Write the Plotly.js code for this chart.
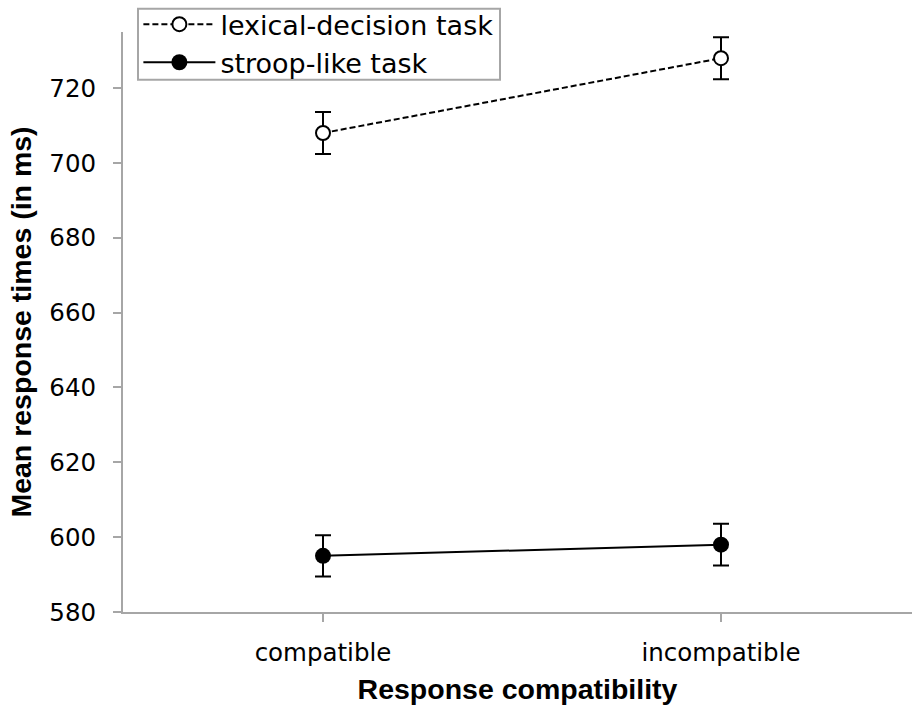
<!DOCTYPE html>
<html>
<head>
<meta charset="utf-8">
<script src="https://cdn.plot.ly/plotly-3.0.1.min.js"></script>
<style>html,body{margin:0;padding:0;background:#fff;}#chart{width:912px;height:710px;}</style>
</head>
<body>
<div id="chart"></div>
<script>
var categories = ["compatible", "incompatible"];
var lexicalMeans = [708, 728];
var lexicalErrors = [5.6, 5.6];
var stroopMeans = [595, 598];
var stroopErrors = [5.5, 5.6];
var yTicks = [580, 600, 620, 640, 660, 680, 700, 720];

var font = "DejaVu Sans, Arial, sans-serif";
var boldFont = "Liberation Sans, Arial, sans-serif";

var traces = [
  {
    x: categories, y: lexicalMeans, type: "scatter", mode: "lines+markers",
    name: "lexical-decision task",
    line: {color: "#000", width: 2, dash: "6px,3px"},
    marker: {symbol: "circle", size: 14, color: "#fff", line: {color: "#000", width: 2}},
    error_y: {type: "data", array: lexicalErrors, visible: true, color: "#000", thickness: 2, width: 8}
  },
  {
    x: categories, y: stroopMeans, type: "scatter", mode: "lines+markers",
    name: "stroop-like task",
    line: {color: "#000", width: 2},
    marker: {symbol: "circle", size: 16, color: "#000", line: {color: "#000", width: 0}},
    error_y: {type: "data", array: stroopErrors, visible: true, color: "#000", thickness: 2, width: 8}
  }
];

var layout = {
  width: 912, height: 710,
  margin: {l: 123, r: 0, t: 30, b: 98},
  paper_bgcolor: "#fff", plot_bgcolor: "#fff",
  showlegend: true,
  legend: {
    x: 0.0195, y: 1.055, xanchor: "left", yanchor: "top",
    borderwidth: 0, bgcolor: "rgba(0,0,0,0)",
    font: {family: font, size: 27, color: "#000"},
    itemwidth: 72, tracegroupgap: 0
  },
  shapes: [{
    type: "rect", xref: "paper", yref: "paper", layer: "below",
    x0: (138 - 123) / 789, x1: (500 - 123) / 789,
    y0: 1 + (30 - 78) / 582, y1: 1 + (30 - 6.7) / 582,
    line: {color: "#a6a6a6", width: 2}, fillcolor: "#fff"
  }],
  xaxis: {
    type: "category",
    range: [-0.5025, 1.4799],
    showgrid: false, zeroline: false,
    showline: true, linecolor: "#a6a6a6", linewidth: 2,
    ticks: "outside", ticklen: 8, tickwidth: 2, tickcolor: "#a6a6a6",
    ticklabelstandoff: 10,
    tickfont: {family: font, size: 24.5, color: "#000"},
    title: {text: "<b>Response compatibility</b>", font: {family: boldFont, size: 28.5, color: "#000"}, standoff: 13}
  },
  yaxis: {
    range: [580, 735],
    tickvals: yTicks,
    showgrid: false, zeroline: false,
    showline: true, linecolor: "#a6a6a6", linewidth: 2,
    ticks: "outside", ticklen: 8, tickwidth: 2, tickcolor: "#a6a6a6",
    ticklabelstandoff: 12,
    tickfont: {family: font, size: 24.5, color: "#000"},
    title: {text: "<b>Mean response times (in ms)</b>", font: {family: boldFont, size: 28.5, color: "#000"}, standoff: 9}
  }
};

Plotly.newPlot("chart", traces, layout, {displayModeBar: false, staticPlot: true});
</script>
</body>
</html>
